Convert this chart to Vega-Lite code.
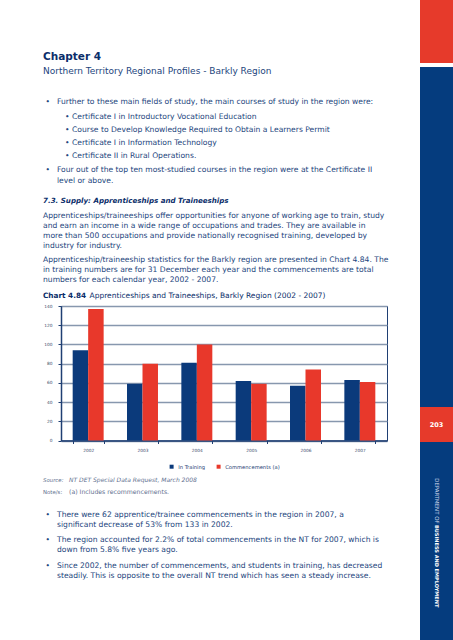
{
  "$schema": "https://vega.github.io/schema/vega-lite/v6.json",
  "padding": {"left": 42, "top": 0, "right": 0, "bottom": 0},
  "background": "white",
  "config": {"font": "DejaVu Sans", "view": {"stroke": null}, "legend": {"layout": {"bottom": {"anchor": "middle"}}}},
  "spacing": 0,
  "resolve": {"scale": {"color": "independent"}, "legend": {"color": "independent"}},
  "hconcat": [
    {
      "spacing": 0,
      "resolve": {"scale": {"color": "independent"}, "legend": {"color": "independent"}},
      "vconcat": [
        {
          "width": 359, "height": 64,
          "data": {"values": [{"text": "Chapter 4"}]},
          "mark": {"type": "text", "align": "left", "baseline": "middle", "fontSize": 10.5, "fontWeight": "bold", "color": "#0b2e6a"},
          "encoding": {
            "x": {"value": -18},
            "y": {"field": "text", "type": "nominal", "axis": null, "scale": {"padding": 0.5, "align": 0.8906}},
            "text": {"field": "text"}
          }
        },
        {
          "width": 359, "height": 33,
          "data": {"values": [{"text": "Northern Territory Regional Profiles - Barkly Region"}]},
          "mark": {"type": "text", "align": "left", "baseline": "middle", "fontSize": 9, "color": "#23457d"},
          "encoding": {
            "x": {"value": -18},
            "y": {"field": "text", "type": "nominal", "axis": null, "scale": {"padding": 0.5, "align": 0.2121}},
            "text": {"field": "text"}
          }
        },
        {
          "width": 359, "height": 12,
          "data": {"values": [{"bullet": "\u2022", "text": "Further to these main fields of study, the main courses of study in the region were:"}]},
          "encoding": {
            "x": {"value": -18},
            "y": {"field": "text", "type": "nominal", "sort": null, "axis": null, "scale": {"padding": 0.5, "align": 0.45}}
          },
          "layer": [
            {"mark": {"type": "text", "align": "left", "baseline": "middle", "fontSize": 7.6, "color": "#23457d", "dx": 2.5}, "encoding": {"text": {"field": "bullet"}}},
            {"mark": {"type": "text", "align": "left", "baseline": "middle", "fontSize": 7.6, "color": "#23457d", "dx": 14}, "encoding": {"text": {"field": "text"}}}
          ]
        },
        {
          "width": 359, "height": 53,
          "data": {"values": [
            {"bullet": "\u2022", "text": "Certificate I in Introductory Vocational Education"},
            {"bullet": "\u2022", "text": "Course to Develop Knowledge Required to Obtain a Learners Permit"},
            {"bullet": "\u2022", "text": "Certificate I in Information Technology"},
            {"bullet": "\u2022", "text": "Certificate II in Rural Operations."}
          ]},
          "encoding": {
            "x": {"value": -18},
            "y": {"field": "text", "type": "nominal", "sort": null, "axis": null, "scale": {"padding": 0.538, "align": 0.571}}
          },
          "layer": [
            {"mark": {"type": "text", "align": "left", "baseline": "middle", "fontSize": 7.6, "color": "#23457d", "dx": 22}, "encoding": {"text": {"field": "bullet"}}},
            {"mark": {"type": "text", "align": "left", "baseline": "middle", "fontSize": 7.6, "color": "#23457d", "dx": 29}, "encoding": {"text": {"field": "text"}}}
          ]
        },
        {
          "width": 359, "height": 31,
          "data": {"values": [
            {"bullet": "\u2022", "text": "Four out of the top ten most-studied courses in the region were at the Certificate II"},
            {"bullet": "", "text": "level or above."}
          ]},
          "encoding": {
            "x": {"value": -18},
            "y": {"field": "text", "type": "nominal", "sort": null, "axis": null, "scale": {"padding": 0.909, "align": 0.4}}
          },
          "layer": [
            {"mark": {"type": "text", "align": "left", "baseline": "middle", "fontSize": 7.6, "color": "#23457d", "dx": 2.5}, "encoding": {"text": {"field": "bullet"}}},
            {"mark": {"type": "text", "align": "left", "baseline": "middle", "fontSize": 7.6, "color": "#23457d", "dx": 14}, "encoding": {"text": {"field": "text"}}}
          ]
        },
        {
          "width": 359, "height": 15,
          "data": {"values": [{"text": "7.3. Supply: Apprenticeships and Traineeships"}]},
          "mark": {"type": "text", "align": "left", "baseline": "middle", "fontSize": 7.1, "fontWeight": "bold", "fontStyle": "italic", "color": "#0b2e6a"},
          "encoding": {
            "x": {"value": -18},
            "y": {"field": "text", "type": "nominal", "axis": null, "scale": {"padding": 0.5, "align": 0.5}},
            "text": {"field": "text"}
          }
        },
        {
          "width": 359, "height": 42,
          "data": {"values": [
            {"text": "Apprenticeships/traineeships offer opportunities for anyone of working age to train, study"},
            {"text": "and earn an income in a wide range of occupations and trades.  They are available in"},
            {"text": "more than 500 occupations and provide nationally recognised training, developed by"},
            {"text": "industry for industry."}
          ]},
          "mark": {"type": "text", "align": "left", "baseline": "middle", "fontSize": 7.6, "color": "#23457d"},
          "encoding": {
            "x": {"value": -18},
            "y": {"field": "text", "type": "nominal", "sort": null, "axis": null, "scale": {"padding": 0.6, "align": 0.64}},
            "text": {"field": "text"}
          }
        },
        {
          "width": 359, "height": 38,
          "data": {"values": [
            {"text": "Apprenticeship/traineeship statistics for the Barkly region are presented in Chart 4.84.  The"},
            {"text": "in training numbers are for 31 December each year and the commencements are total"},
            {"text": "numbers for each calendar year, 2002 - 2007."}
          ]},
          "mark": {"type": "text", "align": "left", "baseline": "middle", "fontSize": 7.6, "color": "#23457d"},
          "encoding": {
            "x": {"value": -18},
            "y": {"field": "text", "type": "nominal", "sort": null, "axis": null, "scale": {"padding": 0.9, "align": 0.572}},
            "text": {"field": "text"}
          }
        },
        {
          "width": 359, "height": 15,
          "data": {"values": [{"label": "Chart 4.84", "title": "Apprenticeships and Traineeships, Barkly Region (2002 - 2007)"}]},
          "encoding": {"x": {"value": -18}},
          "layer": [
            {"mark": {"type": "text", "align": "left", "baseline": "middle", "fontSize": 7.3, "fontWeight": "bold", "color": "#0b2e6a"}, "encoding": {"text": {"field": "label"}}},
            {"mark": {"type": "text", "align": "left", "baseline": "middle", "fontSize": 7.5, "color": "#0b2e6a", "dx": 46.5}, "encoding": {"text": {"field": "title"}}}
          ]
        },
        {
          "width": 326, "height": 134.5,
          "view": {"stroke": "#1f3f73", "strokeWidth": 1},
          "data": {"values": [
            {"year": "2002", "series": "In Training", "value": 94},
            {"year": "2002", "series": "Commencements (a)", "value": 137},
            {"year": "2003", "series": "In Training", "value": 59},
            {"year": "2003", "series": "Commencements (a)", "value": 80},
            {"year": "2004", "series": "In Training", "value": 81},
            {"year": "2004", "series": "Commencements (a)", "value": 100},
            {"year": "2005", "series": "In Training", "value": 62},
            {"year": "2005", "series": "Commencements (a)", "value": 59},
            {"year": "2006", "series": "In Training", "value": 57},
            {"year": "2006", "series": "Commencements (a)", "value": 74},
            {"year": "2007", "series": "In Training", "value": 63},
            {"year": "2007", "series": "Commencements (a)", "value": 61}
          ]},
          "mark": {"type": "bar"},
          "encoding": {
            "x": {
              "field": "year", "type": "nominal",
              "scale": {"paddingInner": 0.43, "paddingOuter": 0.215},
              "axis": {"title": null, "labelAngle": 0, "tickBand": "extent", "labelFontSize": 4.3, "labelColor": "#3b4c6b", "domainColor": "#1f3f73", "domainWidth": 1.5, "tickColor": "#1f3f73", "tickSize": 3, "tickWidth": 1, "labelPadding": 5}
            },
            "xOffset": {"field": "series", "type": "nominal", "sort": ["In Training", "Commencements (a)"]},
            "y": {
              "field": "value", "type": "quantitative",
              "scale": {"domain": [0, 140]},
              "axis": {"title": null, "values": [0, 20, 40, 60, 80, 100, 120, 140], "grid": true, "gridColor": "#8797ae", "gridWidth": 1.3, "labelFontSize": 4.3, "labelColor": "#3b4c6b", "domainColor": "#1f3f73", "domainWidth": 1.5, "tickColor": "#1f3f73", "tickSize": 3, "labelPadding": 6, "minExtent": 18, "maxExtent": 18}
            },
            "color": {
              "field": "series", "type": "nominal",
              "scale": {"domain": ["In Training", "Commencements (a)"], "range": ["#0b3a7b", "#e8382b"]},
              "legend": {"orient": "bottom", "title": null, "symbolType": "square", "symbolSize": 16, "symbolStrokeWidth": 0, "labelFontSize": 5.2, "labelColor": "#1c3c72", "columnPadding": 10, "labelOffset": 4, "padding": 0, "offset": 11}
            }
          }
        },
        {
          "width": 359, "height": 15,
          "data": {"values": [{"label": "Source:", "text": "NT DET Special Data Request, March 2008"}]},
          "encoding": {
            "x": {"value": -18},
            "y": {"field": "text", "type": "nominal", "axis": null, "scale": {"padding": 0.5, "align": 0.6}}
          },
          "layer": [
            {"mark": {"type": "text", "align": "left", "baseline": "middle", "fontSize": 5.4, "fontStyle": "italic", "color": "#5f7190"}, "encoding": {"text": {"field": "label"}}},
            {"mark": {"type": "text", "align": "left", "baseline": "middle", "fontSize": 6, "fontStyle": "italic", "color": "#5f7190", "dx": 26}, "encoding": {"text": {"field": "text"}}}
          ]
        },
        {
          "width": 359, "height": 15,
          "data": {"values": [{"label": "Note/s:", "text": "(a) Includes recommencements."}]},
          "encoding": {
            "x": {"value": -18},
            "y": {"field": "text", "type": "nominal", "axis": null, "scale": {"padding": 0.5, "align": 0.4}}
          },
          "layer": [
            {"mark": {"type": "text", "align": "left", "baseline": "middle", "fontSize": 5.4, "color": "#5f7190"}, "encoding": {"text": {"field": "label"}}},
            {"mark": {"type": "text", "align": "left", "baseline": "middle", "fontSize": 6.2, "color": "#5f7190", "dx": 26}, "encoding": {"text": {"field": "text"}}}
          ]
        },
        {
          "width": 359, "height": 29,
          "data": {"values": [
            {"bullet": "\u2022", "text": "There were 62 apprentice/trainee commencements in the region in 2007, a"},
            {"bullet": "", "text": "significant decrease of 53% from 133 in 2002."}
          ]},
          "encoding": {
            "x": {"value": -18},
            "y": {"field": "text", "type": "nominal", "sort": null, "axis": null, "scale": {"padding": 0.95, "align": 0.737}}
          },
          "layer": [
            {"mark": {"type": "text", "align": "left", "baseline": "middle", "fontSize": 7.6, "color": "#23457d", "dx": 2.5}, "encoding": {"text": {"field": "bullet"}}},
            {"mark": {"type": "text", "align": "left", "baseline": "middle", "fontSize": 7.6, "color": "#23457d", "dx": 14}, "encoding": {"text": {"field": "text"}}}
          ]
        },
        {
          "width": 359, "height": 25,
          "data": {"values": [
            {"bullet": "\u2022", "text": "The region accounted for 2.2% of total commencements in the NT for 2007, which is"},
            {"bullet": "", "text": "down from 5.8% five years ago."}
          ]},
          "encoding": {
            "x": {"value": -18},
            "y": {"field": "text", "type": "nominal", "sort": null, "axis": null, "scale": {"padding": 0.75, "align": 0.667}}
          },
          "layer": [
            {"mark": {"type": "text", "align": "left", "baseline": "middle", "fontSize": 7.6, "color": "#23457d", "dx": 2.5}, "encoding": {"text": {"field": "bullet"}}},
            {"mark": {"type": "text", "align": "left", "baseline": "middle", "fontSize": 7.6, "color": "#23457d", "dx": 14}, "encoding": {"text": {"field": "text"}}}
          ]
        },
        {
          "width": 359, "height": 25,
          "data": {"values": [
            {"bullet": "\u2022", "text": "Since 2002, the number of commencements, and students in training, has decreased"},
            {"bullet": "", "text": "steadily.  This is opposite to the overall NT trend which has seen a steady increase."}
          ]},
          "encoding": {
            "x": {"value": -18},
            "y": {"field": "text", "type": "nominal", "sort": null, "axis": null, "scale": {"padding": 0.75, "align": 0.713}}
          },
          "layer": [
            {"mark": {"type": "text", "align": "left", "baseline": "middle", "fontSize": 7.6, "color": "#23457d", "dx": 2.5}, "encoding": {"text": {"field": "bullet"}}},
            {"mark": {"type": "text", "align": "left", "baseline": "middle", "fontSize": 7.6, "color": "#23457d", "dx": 14}, "encoding": {"text": {"field": "text"}}}
          ]
        }
      ]
    },
    {
      "spacing": 0,
      "vconcat": [
        {"width": 33, "height": 63, "view": {"fill": "#e63a2b", "stroke": null}, "data": {"values": [{}]}, "mark": {"type": "text", "fontSize": 1}},
        {"width": 33, "height": 4, "data": {"values": [{}]}, "mark": {"type": "text", "fontSize": 1}},
        {"width": 33, "height": 340, "view": {"fill": "#053c7e", "stroke": null}, "data": {"values": [{}]}, "mark": {"type": "text", "fontSize": 1}},
        {
          "width": 33, "height": 35, "view": {"fill": "#e63a2b", "stroke": null},
          "data": {"values": [{"page": "203"}]},
          "mark": {"type": "text", "fontSize": 6.5, "fontWeight": "bold", "color": "white", "baseline": "middle", "align": "center"},
          "encoding": {"text": {"field": "page"}}
        },
        {
          "width": 33, "height": 166, "view": {"fill": "#053c7e", "stroke": null},
          "data": {"values": [{"a": "DEPARTMENT OF ", "b": "BUSINESS AND EMPLOYMENT"}]},
          "layer": [
            {"mark": {"type": "text", "angle": 90, "align": "right", "baseline": "middle", "fontSize": 5.4, "color": "#c9d4e8", "dx": -1.5}, "encoding": {"text": {"field": "a"}}},
            {"mark": {"type": "text", "angle": 90, "align": "left", "baseline": "middle", "fontSize": 5, "fontWeight": "bold", "color": "white"}, "encoding": {"text": {"field": "b"}}}
          ]
        },
        {"width": 33, "height": 32, "view": {"fill": "#053c7e", "stroke": null}, "data": {"values": [{}]}, "mark": {"type": "text", "fontSize": 1}}
      ]
    }
  ]
}
